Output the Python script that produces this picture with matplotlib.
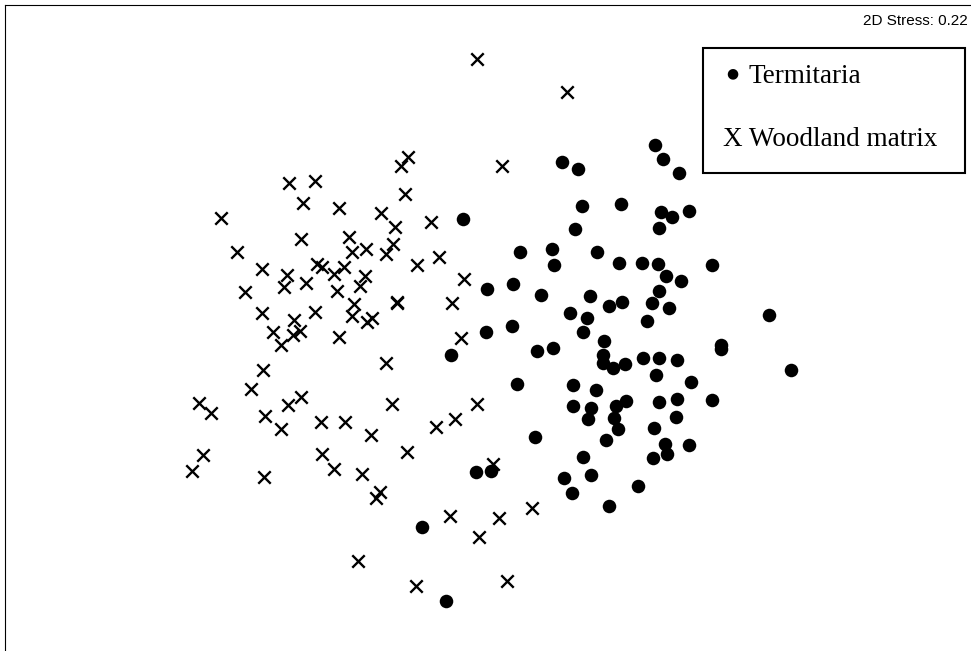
import matplotlib
matplotlib.use("Agg")
import matplotlib.pyplot as plt
from matplotlib.patches import Rectangle

# NMDS ordination scores (x to the right, y downward)
termitaria_x = [463, 562, 578, 582, 621, 575, 655, 663, 679, 661, 672, 689, 659,
                597, 619, 642, 658, 666, 681, 659, 712, 590, 622, 609, 652, 669,
                647, 570, 587, 769, 583,
                520, 552, 554, 487, 513, 541, 486, 512, 451, 537, 553, 517, 604,
                603, 603, 613, 573, 596, 573, 591, 616,
                625, 643, 659, 677, 656, 721, 721, 791, 691, 588, 626, 614, 618,
                659, 677, 676, 712, 654, 606, 665, 667, 689, 653, 583, 591, 564,
                572, 638, 609,
                535, 476, 491, 422, 446]
termitaria_y = [219, 162, 169, 206, 204, 229, 145, 159, 173, 212, 217, 211, 228,
                252, 263, 263, 264, 276, 281, 291, 265, 296, 302, 306, 303, 308,
                321, 313, 318, 315, 332,
                252, 249, 265, 289, 284, 295, 332, 326, 355, 351, 348, 384, 341,
                355, 363, 368, 385, 390, 406, 408, 406,
                364, 358, 358, 360, 375, 345, 349, 370, 382, 419, 401, 418, 429,
                402, 399, 417, 400, 428, 440, 444, 454, 445, 458, 457, 475, 478,
                493, 486, 506,
                437, 472, 471, 527, 601]

woodland_x = [477, 567, 408, 401, 502, 405, 431, 395,
              289, 315, 303, 339, 221, 381, 301, 349, 237, 352, 366, 393, 386,
              262, 317, 322, 344, 287, 284, 306, 334, 365, 360, 337, 245, 397,
              354, 352, 262, 294, 315, 367, 372, 273, 300, 293, 339,
              281, 263, 386, 251, 199, 211, 265, 288, 301, 281, 392, 321, 345,
              371, 203, 192, 264, 322, 334, 362, 380, 376, 407,
              417, 439, 464, 397, 452, 461, 477,
              455, 436, 493, 450, 499, 532, 479, 358, 416, 507]
woodland_y = [59, 92, 157, 166, 166, 194, 222, 227,
              183, 181, 203, 208, 218, 213, 239, 237, 252, 252, 249, 244, 254,
              269, 264, 267, 267, 275, 287, 283, 274, 276, 286, 291, 292, 302,
              304, 316, 313, 320, 312, 322, 318, 332, 331, 335, 337,
              345, 370, 363, 389, 403, 413, 416, 405, 397, 429, 404, 422, 422,
              435, 455, 471, 477, 454, 469, 474, 492, 498, 452,
              265, 257, 279, 303, 303, 338, 404,
              419, 427, 464, 516, 518, 508, 537, 561, 586, 581]

stress_label = "2D Stress: 0.22"
legend_labels = ["Termitaria", "X Woodland matrix"]

fig = plt.figure(figsize=(9.71, 6.51), dpi=100)
ax = fig.add_axes([5 / 971, 0, 966 / 971, 646 / 651])
ax.set_xlim(5, 971)
ax.set_ylim(651, 5)
ax.set_xticks([])
ax.set_yticks([])
for side in ["right", "bottom"]:
    ax.spines[side].set_visible(False)
for side in ["left", "top"]:
    ax.spines[side].set_linewidth(0.8)

ax.scatter(termitaria_x, termitaria_y, s=95, c="black", marker="o",
           linewidths=0, zorder=3)
ax.scatter(woodland_x, woodland_y, s=80, c="black", marker="x",
           linewidths=1.7, zorder=3)

# stress value in the top right corner (slightly cut off in the original)
ax.text(863, 21, stress_label, ha="left", va="center",
        fontsize=11, family="Liberation Sans", clip_on=False)

# legend box drawn by hand, as in the original
ax.add_patch(Rectangle((703, 48), 262, 125, fill=False, edgecolor="black",
                       linewidth=1.5, zorder=4))
ax.text(732, 73, "\u25CF", ha="center", va="center",
        fontsize=10, family="DejaVu Sans")
ax.text(748, 83, legend_labels[0], ha="left", va="baseline",
        fontsize=19.5, family="Liberation Serif")
ax.text(723, 146, legend_labels[1], ha="left", va="baseline",
        fontsize=19.5, family="Liberation Serif")

fig.savefig("out.png", dpi=100)
